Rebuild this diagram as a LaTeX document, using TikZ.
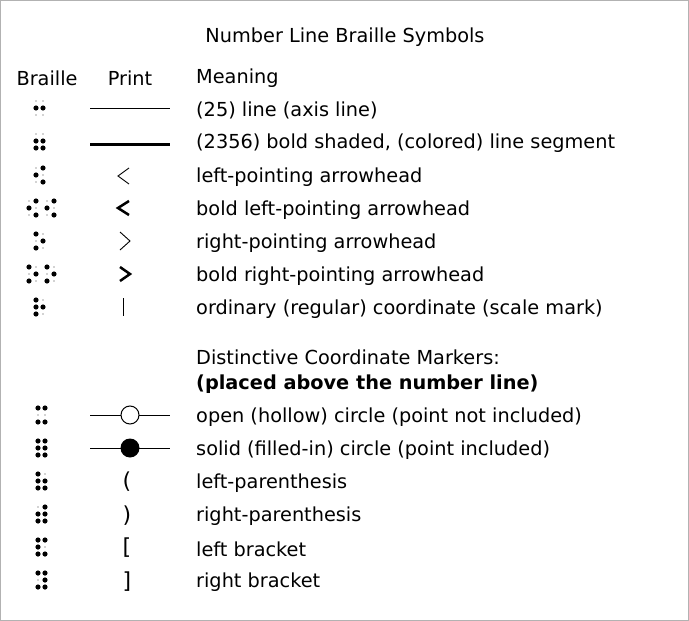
\documentclass[tikz,border=0pt]{standalone}
\usepackage{fontspec}
\setmainfont{DejaVu Sans}
\begin{document}
\begin{tikzpicture}[x=1pt,y=-1pt,
  txt/.style={anchor=west,inner sep=0pt,yshift=-2pt,font=\fontsize{19.3}{22}\selectfont},
  hd/.style={inner sep=0pt,yshift=-2pt,font=\fontsize{19.3}{22}\selectfont},
  sym/.style={inner sep=0pt,font=\fontsize{22}{24}\selectfont},
  dot/.style={fill=black},
  edot/.style={fill=gray!70}]
\useasboundingbox (0,0) rectangle (689,621);
\draw[gray!60] (0.5,0.5) rectangle (688.5,620.5);
\newcommand\bcell[3]{% x, y, dots list
  \foreach \d in {1,...,6}{%
    \pgfmathtruncatemacro\col{\d>3?1:0}%
    \pgfmathtruncatemacro\row{mod(\d-1,3)}%
    \coordinate (p) at ({#1+7*\col},{#2-7+7*\row});%
    \fill[edot] (p) circle (0.9);}%
  \foreach \d in {#3}{%
    \pgfmathtruncatemacro\col{\d>3?1:0}%
    \pgfmathtruncatemacro\row{mod(\d-1,3)}%
    \fill[dot] ({#1+7*\col},{#2-7+7*\row}) circle (2.6);}}
\node[hd] (title) at (345,35) {Number Line Braille Symbols};
\node[hd] (h1) at (47,76) {Braille};
\node[hd] (h2) at (130,76) {Print};
\node[txt] (h3) at (196,76) {Meaning};
% braille
\bcell{36}{108}{2,5}
\bcell{36}{141}{2,3,5,6}
\bcell{36}{175}{2,4,6}
\bcell{29}{208}{2,4,6}\bcell{47}{208}{2,4,6}
\bcell{36}{241}{1,3,5}
\bcell{29}{274}{1,3,5}\bcell{47}{274}{1,3,5}
\bcell{36}{307}{1,2,3,5}
\bcell{38}{415}{1,3,4,6}
\bcell{38}{448}{1,2,3,4,5,6}
\bcell{38}{481}{1,2,3,5,6}
\bcell{38}{514}{2,3,4,5,6}
\bcell{38}{547}{1,2,3,4,6}
\bcell{38}{580}{1,3,4,5,6}
% print
\draw[line width=1pt] (90,108) -- (170,108);
\draw[line width=3pt] (90,144) -- (170,144);
\draw[line width=0.9pt] (129,168) -- (118,176) -- (129,184);
\draw[line width=2.5pt] (129,201) -- (118,208) -- (129,215);
\draw[line width=0.9pt] (120,232) -- (130,241) -- (120,250);
\draw[line width=2.5pt] (120,267) -- (130,274) -- (120,281);
\draw[line width=0.9pt] (123,298) -- (123,316);
\draw[line width=1pt] (90,415) -- (170,415);
\draw[line width=1pt,fill=white] (130,415) circle (9);
\draw[line width=1pt] (90,448) -- (170,448);
\fill (130,448) circle (9.5);
\node[sym] (p1) at (127,482) {(};
\node[sym] (p2) at (127,516) {)};
\node[sym] (p3) at (127,548) {[};
\node[sym] (p4) at (127,582) {]};
% meanings
\node[txt] (m1) at (196,108) {(25) line (axis line)};
\node[txt] (m2) at (196,141) {(2356) bold shaded, (colored) line segment};
\node[txt] (m3) at (196,175) {left-pointing arrowhead};
\node[txt] (m4) at (196,208) {bold left-pointing arrowhead};
\node[txt] (m5) at (196,241) {right-pointing arrowhead};
\node[txt] (m6) at (196,274) {bold right-pointing arrowhead};
\node[txt] (m7) at (196,307) {ordinary (regular) coordinate (scale mark)};
\node[txt] (s1) at (196,355) {Distinctive Coordinate Markers:};
\node[txt,font=\fontsize{19.3}{22}\selectfont\bfseries] (s2) at (196,382) {(placed above the number line)};
\node[txt] (c1) at (196,415) {open (hollow) circle (point not included)};
\node[txt] (c2) at (196,448) {solid (filled-in) circle (point included)};
\node[txt] (c3) at (196,481) {left-parenthesis};
\node[txt] (c4) at (196,514) {right-parenthesis};
\node[txt] (c5) at (196,547) {left bracket};
\node[txt] (c6) at (196,580) {right bracket};
\end{tikzpicture}
\end{document}
